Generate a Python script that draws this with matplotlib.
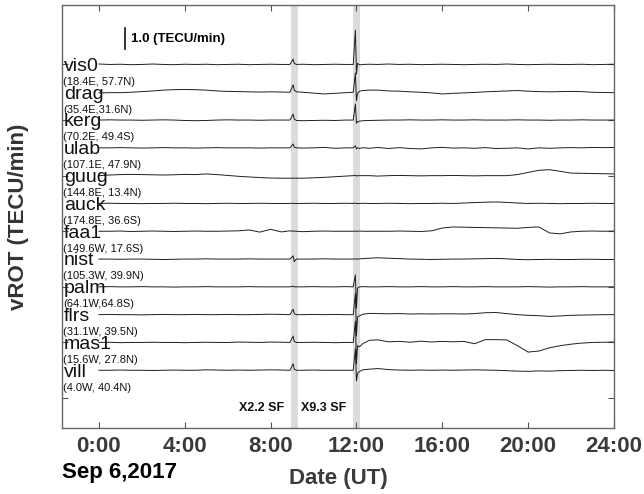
import matplotlib
matplotlib.use("Agg")
import matplotlib.pyplot as plt

plt.rcParams['font.family'] = ['Liberation Sans', 'DejaVu Sans']

# Data (vROT in TECU/min)
hours = [0, 0.5, 1, 1.5, 2, 2.5, 3, 3.5, 4, 4.5, 5, 5.5, 6, 6.5, 7, 7.5, 8, 8.5,
         8.9, 9.05, 9.1, 9.2,
         9.5, 10, 10.5, 11, 11.5,
         11.85, 11.95, 12.0, 12.05, 12.15, 12.3, 12.6,
         13, 13.5, 14, 14.5, 15, 15.5, 16, 16.5, 17, 17.5, 18, 18.5, 19, 19.5,
         20, 20.5, 21, 21.5, 22, 22.5, 23, 23.5, 24]

stations = ['vis0', 'drag', 'kerg', 'ulab', 'guug', 'auck',
            'faa1', 'nist', 'palm', 'flrs', 'mas1', 'vill']
coords = ['(18.4E, 57.7N)', '(35.4E,31.6N)', '(70.2E, 49.4S)', '(107.1E, 47.9N)',
          '(144.8E, 13.4N)', '(174.8E, 36.6S)', '(149.6W, 17.6S)', '(105.3W, 39.9N)',
          '(64.1W,64.8S)', '(31.1W, 39.5N)', '(15.6W, 27.8N)', '(4.0W, 40.4N)']

vis0 = [0.02, 0.00, 0.01, -0.01, 0.00, 0.02, 0.00, -0.01, 0.01, 0.00, 0.01, -0.01, 0.00, 0.01, -0.01, 0.00, 0.01, 0.00,
        0.00, 0.25, 0.05, 0.00,
        0.01, -0.01, 0.00, 0.01, 0.00,
        0.00, 1.60, -0.45, 0.05, -0.02, 0.00, 0.01,
        0.00, 0.02, 0.00, 0.01, -0.01, 0.00, 0.01, 0.00, -0.01, 0.00, 0.01, 0.00, 0.02, 0.00, -0.01, 0.00, 0.01, 0.00, 0.00, 0.01, -0.01, 0.00, 0.01]
drag = [-0.03, -0.02, -0.02, 0.00, 0.03, 0.06, 0.10, 0.12, 0.13, 0.12, 0.10, 0.06, 0.04, 0.03, 0.02, 0.01, 0.02, 0.01,
        0.00, 0.35, 0.10, 0.02,
        0.00, -0.04, -0.08, -0.05, -0.02,
        0.00, 0.90, -0.40, -0.05, 0.05, 0.08, 0.10,
        0.10, 0.06, 0.05, 0.02, 0.00, -0.03, -0.08, -0.05, -0.03, -0.01, 0.02, 0.04, 0.06, 0.08, 0.05, 0.03, 0.02, 0.03, 0.04, 0.03, 0.00, -0.01, -0.02]
kerg = [0.00, 0.01, 0.00, 0.00, -0.01, 0.00, 0.01, 0.00, -0.02, -0.03, -0.02, 0.00, 0.01, 0.00, 0.00, -0.01, 0.00, 0.00,
        0.00, 0.28, 0.05, -0.02,
        -0.03, -0.02, -0.01, -0.02, 0.00,
        0.00, 0.75, -0.15, -0.08, -0.05, -0.03, -0.02,
        -0.01, 0.00, 0.00, 0.01, 0.00, 0.00, 0.01, 0.00, 0.00, 0.01, 0.00, 0.00, 0.00, 0.01, 0.00, 0.00, -0.01, 0.00, 0.00, 0.01, 0.00, 0.00, 0.00]
ulab = [0.00, 0.00, 0.01, 0.00, -0.01, 0.00, 0.01, 0.00, 0.00, -0.01, 0.00, 0.01, 0.00, 0.00, 0.00, -0.01, 0.00, 0.00,
        0.00, 0.18, 0.03, 0.00,
        -0.01, 0.00, 0.02, -0.02, 0.00,
        0.00, 0.10, -0.05, 0.00, -0.03, 0.01, -0.02,
        0.02, -0.03, 0.01, -0.03, -0.05, 0.00, 0.02, -0.01, 0.00, -0.02, 0.01, -0.03, -0.02, 0.00, -0.05, 0.00, -0.02, 0.00, 0.01, 0.00, 0.02, 0.01, 0.02]
guug = [0.00, 0.03, 0.05, 0.06, 0.05, 0.04, 0.03, 0.04, 0.06, 0.05, 0.08, 0.05, 0.01, -0.03, -0.06, -0.09, -0.11, -0.12,
        -0.12, -0.12, -0.11, -0.12,
        -0.12, -0.10, -0.08, -0.05, -0.02,
        0.00, 0.02, -0.02, 0.00, 0.00, 0.00, 0.00,
        -0.02, 0.00, 0.01, 0.00, -0.01, 0.00, 0.00, 0.01, 0.00, -0.01, 0.00, 0.00, 0.00, 0.05, 0.15, 0.25, 0.28, 0.20, 0.12, 0.11, 0.10, 0.09, 0.08]
auck = [0.00, 0.01, 0.00, 0.00, -0.01, 0.00, 0.00, 0.01, 0.00, 0.00, -0.01, 0.00, 0.01, 0.00, 0.00, 0.01, 0.00, 0.00,
        0.00, 0.01, 0.00, 0.00,
        0.00, 0.01, 0.00, 0.00, 0.01,
        0.00, 0.02, -0.01, 0.00, 0.00, 0.01, 0.00,
        0.00, 0.01, 0.00, -0.01, 0.00, 0.00, 0.01, 0.00, 0.02, 0.04, 0.06, 0.07, 0.05, 0.02, 0.00, 0.01, 0.00, -0.01, 0.00, 0.00, 0.01, 0.00, 0.00]
faa1 = [0.00, 0.00, 0.01, -0.01, 0.00, 0.01, 0.00, -0.01, 0.00, 0.01, 0.00, 0.00, 0.01, 0.02, 0.06, -0.04, 0.09, -0.03,
        0.02, 0.00, 0.01, 0.00,
        -0.02, 0.00, 0.01, 0.00, 0.00,
        0.00, 0.01, 0.00, 0.00, 0.01, 0.00, 0.00,
        0.00, 0.00, 0.01, 0.00, -0.01, 0.02, 0.15, 0.20, 0.19, 0.18, 0.17, 0.16, 0.15, 0.14, 0.18, 0.20, -0.08, -0.12, -0.03, 0.00, 0.01, 0.00, 0.01]
nist = [0.00, 0.00, -0.01, 0.00, 0.00, -0.01, -0.02, -0.01, 0.00, 0.00, 0.01, 0.00, 0.00, 0.00, 0.01, 0.00, 0.00, 0.00,
        0.00, 0.15, -0.12, 0.00,
        0.00, 0.00, 0.01, 0.00, 0.00,
        0.00, 0.01, 0.00, 0.00, 0.01, 0.02, 0.04,
        0.06, 0.04, 0.02, 0.00, -0.01, -0.02, -0.01, 0.00, 0.00, 0.01, 0.02, 0.03, 0.01, -0.02, -0.03, -0.02, -0.01, -0.02, -0.02, -0.01, -0.01, -0.02, -0.02]
palm = [0.00, 0.01, 0.00, 0.00, 0.01, 0.00, 0.00, -0.01, 0.00, 0.00, 0.01, 0.00, 0.00, 0.00, 0.01, 0.00, 0.00, 0.00,
        0.00, 0.03, 0.00, 0.00,
        0.00, 0.01, 0.00, 0.00, 0.01,
        0.00, 0.56, -1.00, -0.05, 0.00, 0.01, 0.00,
        0.00, 0.01, 0.00, 0.00, 0.01, 0.00, 0.00, 0.01, 0.00, 0.00, 0.01, 0.00, 0.00, 0.00, 0.01, 0.00, -0.01, 0.00, 0.00, 0.01, 0.00, 0.00, 0.00]
flrs = [0.00, 0.01, 0.00, 0.00, -0.01, 0.00, 0.01, 0.00, 0.00, 0.01, 0.00, 0.00, 0.01, 0.00, 0.00, 0.01, 0.02, 0.01,
        0.00, 0.25, 0.05, 0.00,
        0.00, 0.01, 0.00, 0.01, 0.00,
        0.00, 1.00, -1.00, -0.10, -0.05, 0.02, 0.06,
        0.05, 0.04, 0.05, 0.03, 0.04, 0.03, 0.04, 0.04, 0.03, 0.05, 0.09, 0.10, 0.05, 0.00, -0.03, -0.05, -0.08, -0.06, -0.03, -0.02, -0.01, 0.00, 0.00]
mas1 = [0.00, 0.01, -0.01, 0.00, 0.00, 0.01, 0.00, 0.00, -0.01, 0.00, 0.01, 0.00, 0.00, 0.02, 0.01, 0.00, 0.02, 0.01,
        0.00, 0.30, 0.05, 0.00,
        0.00, 0.01, 0.00, -0.01, 0.00,
        0.00, 1.00, -1.00, -0.15, -0.20, -0.05, 0.10,
        0.12, 0.03, 0.05, 0.01, 0.06, 0.02, 0.05, 0.03, 0.05, -0.06, 0.13, 0.13, 0.12, -0.15, -0.45, -0.40, -0.25, -0.15, -0.08, -0.03, 0.00, 0.01, 0.02]
vill = [0.00, 0.00, 0.01, 0.00, 0.00, -0.01, 0.00, 0.01, 0.00, 0.00, 0.02, 0.01, 0.00, 0.01, 0.00, 0.01, 0.02, 0.01,
        0.00, 0.30, 0.05, 0.00,
        0.00, 0.01, 0.00, 0.00, 0.00,
        0.00, 1.00, -0.50, -0.15, -0.05, 0.02, 0.05,
        0.08, 0.03, 0.01, 0.00, 0.01, 0.00, 0.01, 0.00, 0.01, 0.02, 0.01, 0.00, -0.02, -0.04, -0.05, -0.03, -0.04, -0.02, -0.01, 0.00, -0.01, 0.00, -0.01]

series = [vis0, drag, kerg, ulab, guug, auck, faa1, nist, palm, flrs, mas1, vill]

flare_bands = [(8.95, 9.27), (11.84, 12.16)]
flare_names = ['X2.2 SF', 'X9.3 SF']
step = 1.3  # vertical offset between stations

fig = plt.figure(figsize=(6.44, 4.94), dpi=100)
ax = fig.add_axes([62 / 644, 1 - 428 / 494, 552 / 644, 423 / 494])

for b in flare_bands:
    ax.axvspan(b[0], b[1], color='#dcdcdc', lw=0, zorder=0)

n = len(stations)
for i in range(n):
    lev = (n - i) * step
    ax.plot(hours, [v + lev for v in series[i]], color='#1e1e1e', lw=0.7, zorder=2)
    ax.text(-1.63, lev - 0.3, stations[i], fontsize=14, color='#111111', va='baseline', ha='left', zorder=3)
    ax.text(-1.68, lev - 0.95, coords[i], fontsize=8, color='#111111', va='baseline', ha='left', zorder=3)

for i in range(2):
    ax.text(flare_bands[i][0] - 0.3, -0.47, flare_names[i], fontsize=9, fontweight='bold',
            ha='right', va='center', color='#111111')

# scale bar
ax.plot([1.21, 1.21], [16.3, 17.3], color='#111111', lw=1.2)
ax.text(1.5, 16.8, '1.0 (TECU/min)', fontsize=9.5, fontweight='bold', va='center', ha='left')

ax.set_xlim(-1.72, 24.0)
ax.set_ylim(-1.4, 18.38)
ax.set_xticks([0, 4, 8, 12, 16, 20, 24])
ax.set_xticklabels(['0:00', '4:00', '8:00', '12:00', '16:00', '20:00', '24:00'],
                   fontweight='bold')
ax.set_yticks([k * step for k in range(0, 13, 2)])
ax.set_yticklabels([])
ax.tick_params(direction='in', top=True, right=True, length=4, labelsize=16,
               labelcolor='#3a3a3a', color='#555555', pad=6)
for s in ax.spines.values():
    s.set_color('#666666')
    s.set_linewidth(1.0)

ax.set_xlabel('Date (UT)', fontsize=16, fontweight='bold', color='#3a3a3a', labelpad=8)
ax.set_ylabel('vROT (TECU/min)', fontsize=16, fontweight='bold', color='#333333', labelpad=18)
fig.text(62 / 644, 1 - 472 / 494, 'Sep 6,2017', fontsize=16, fontweight='bold', va='center', ha='left')

fig.savefig('out.png', dpi=100)
